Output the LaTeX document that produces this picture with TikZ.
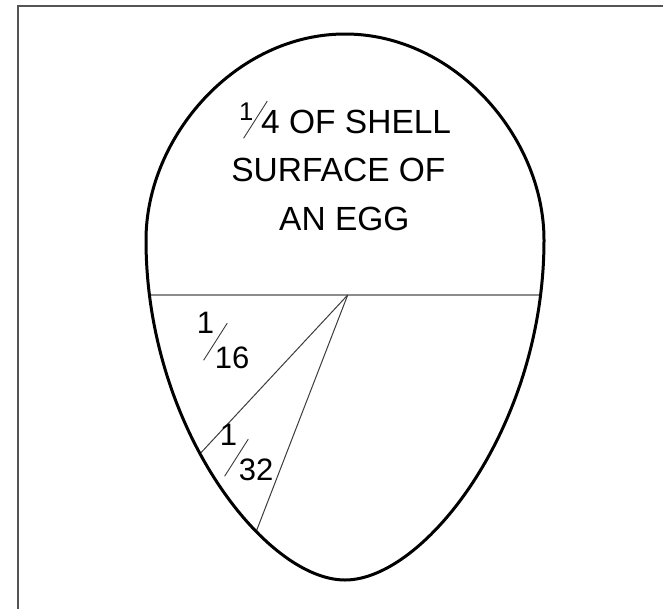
\documentclass[tikz,border=0pt]{standalone}
\usepackage{fontspec}
\setmainfont{Liberation Sans}
\usepackage{graphicx}
\usetikzlibrary{calc}
\definecolor{framegray}{HTML}{555555}
\definecolor{cutgray}{HTML}{8C8C8C}
\definecolor{raygray}{HTML}{3C3C3C}
% slanted bar of a fraction, zero width
\newcommand{\fracslash}[2]{\rlap{\kern#1\raisebox{#2}{\color{raygray}\rotatebox{-32.5}{\rule{0.9pt}{44pt}}}}}
\tikzset{
  shell/.style={draw=black, line width=3pt},
  cutline/.style={draw=cutgray, line width=1.6pt},
  rayline/.style={draw=raygray, line width=1pt},
  caption/.style={font=\fontsize{33.5}{40}\selectfont, inner sep=0pt, anchor=base west},
  part/.style={font=\fontsize{31}{36}\selectfont, inner sep=0pt, anchor=base west},
}
\def\eggoutline{(345,34) .. controls (235.6,34) and (146,137) .. (146,240)
  .. controls (146,427) and (265.4,580) .. (345,580)
  .. controls (424.6,580) and (544,427) .. (544,240)
  .. controls (544,137) and (454.4,34) .. (345,34) -- cycle}
\begin{document}
\begin{tikzpicture}[x=1pt, y=-1pt]
  \clip (0,0) rectangle (663,608);
  \fill[white] (0,0) rectangle (663,608);
  \draw[draw=framegray, line width=2pt] (18.3,5.5) rectangle (690,640);

  \coordinate (hub) at (347.7,295);
  \coordinate (left16) at (200.7,453);
  \coordinate (left32) at (256,532);
  \begin{scope}
    \clip \eggoutline;
    \draw[cutline] (100,295) -- (600,295);
    \draw[rayline] (hub) -- ($(hub)!1.3!(left16)$);
    \draw[rayline] (hub) -- ($(hub)!1.3!(left32)$);
  \end{scope}
  \draw[shell] \eggoutline;

  % labels
  \node[caption] (quarter) at (238.9,133.3) {{\fontsize{25.6}{26}\selectfont\raisebox{13.3pt}{1}}\fracslash{-10.1pt}{-4.7pt}\kern7.9pt 4 OF SHELL};
  \node[caption] (surface) at (231.2,181.7) {SURFACE OF};
  \node[caption] (anegg) at (279,230) {AN EGG};
  \node[part] (sixteenth) at (196.6,368) {\raisebox{34.7pt}{1}\fracslash{-10.8pt}{8pt}\kern0.8pt 16};
  \node[part] (thirtysecond) at (219.6,480) {\raisebox{35pt}{1}\fracslash{-12.8pt}{4pt}\kern1.9pt 32};
\end{tikzpicture}
\end{document}
